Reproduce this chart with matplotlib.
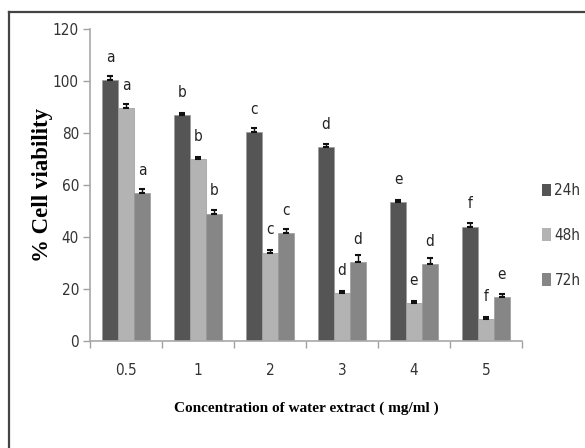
import matplotlib
matplotlib.use("Agg")
import matplotlib.pyplot as plt
import numpy as np
from matplotlib.lines import Line2D
from matplotlib.patches import Patch

categories = ["0.5", "1", "2", "3", "4", "5"]
series_names = ["24h", "48h", "72h"]
v24 = [100.5, 87.0, 80.5, 74.5, 53.5, 44.0]
v48 = [89.5, 70.0, 34.0, 18.5, 14.5, 8.5]
v72 = [57.0, 49.0, 41.5, 30.5, 29.5, 17.0]
e24 = [1.5, 0.8, 1.5, 1.2, 0.8, 1.5]
e48 = [1.5, 0.8, 1.0, 0.8, 0.8, 0.6]
e72 = [1.5, 1.5, 1.5, 2.5, 2.5, 1.2]
l24 = ["a", "b", "c", "d", "e", "f"]
l48 = ["a", "b", "c", "d", "e", "f"]
l72 = ["a", "b", "c", "d", "d", "e"]
y_ticks = [0, 20, 40, 60, 80, 100, 120]

colors = ["#555555", "#b3b3b3", "#868686"]
narrow = ["DejaVu Sans"]
serif = ["Liberation Serif", "DejaVu Serif"]
STR = "condensed"

fig = plt.figure(figsize=(5.85, 4.48), dpi=100)
ax = fig.add_axes([90/585, 1-341/448, (522-90)/585, (341-29)/448])

x = np.arange(len(categories))
w = 0.222
vals = [v24, v48, v72]
errs = [e24, e48, e72]
labs = [l24, l48, l72]
for i in range(3):
    xs = x + (i - 1) * w
    ax.bar(xs, vals[i], width=w, color=colors[i], edgecolor="#9a9a9a",
           linewidth=0.5, label=series_names[i], zorder=2)
    ax.errorbar(xs, vals[i], yerr=[np.zeros(6), errs[i]], fmt="none",
                ecolor="#111111", elinewidth=1.0, capsize=2.5, capthick=1.5, zorder=3)
    for xx, vv, ll in zip(xs, vals[i], labs[i]):
        ax.text(xx, vv + 8.7, ll, ha="center", va="center", fontsize=11,
                family=narrow, fontstretch=STR, color="#222222")

ax.set_xlim(-0.5, 5.5)
ax.set_ylim(0, 120)
ax.set_yticks(y_ticks)
ax.set_xticks(x)
ax.set_xticklabels(categories)
ax.set_xticks(np.arange(-0.5, 6, 1), minor=True)
ax.tick_params(axis="x", which="major", length=0, pad=16, labelsize=11, labelcolor="#333333")
ax.tick_params(axis="x", which="minor", length=5, direction="out", color="#a0a0a0", width=1)
ax.tick_params(axis="y", length=5, direction="out", color="#a0a0a0", width=1, pad=3,
               labelsize=11, labelcolor="#333333")
for t in ax.get_xticklabels() + ax.get_yticklabels():
    t.set_family(narrow)
    t.set_fontstretch(STR)
for s in ["top", "right"]:
    ax.spines[s].set_visible(False)
for s in ["left", "bottom"]:
    ax.spines[s].set_color("#a8a8a8")
    ax.spines[s].set_linewidth(1.2)

ax.set_ylabel("% Cell viability", family=serif, fontweight="bold", fontsize=16.5, labelpad=0)
ax.set_xlabel("Concentration of water extract ( mg/ml )", family=serif, fontweight="bold",
              fontsize=11, labelpad=17)

handles = [Patch(facecolor=c, edgecolor="none") for c in colors]
leg = ax.legend(handles, series_names, loc="upper left", bbox_to_anchor=(1.015, 0.55),
                frameon=False, handlelength=0.6, handleheight=0.9, handletextpad=0.2,
                labelspacing=1.95, prop={"family": narrow, "size": 11, "stretch": STR})
for t in leg.get_texts():
    t.set_color("#333333")

fig.add_artist(Line2D([9/585, 1.0], [1-12/448, 1-12/448], color="#444444", lw=1.6,
                      transform=fig.transFigure))
fig.add_artist(Line2D([9/585, 9/585], [0, 1-12/448], color="#444444", lw=1.6,
                      transform=fig.transFigure))

fig.savefig("out.png", dpi=100)
